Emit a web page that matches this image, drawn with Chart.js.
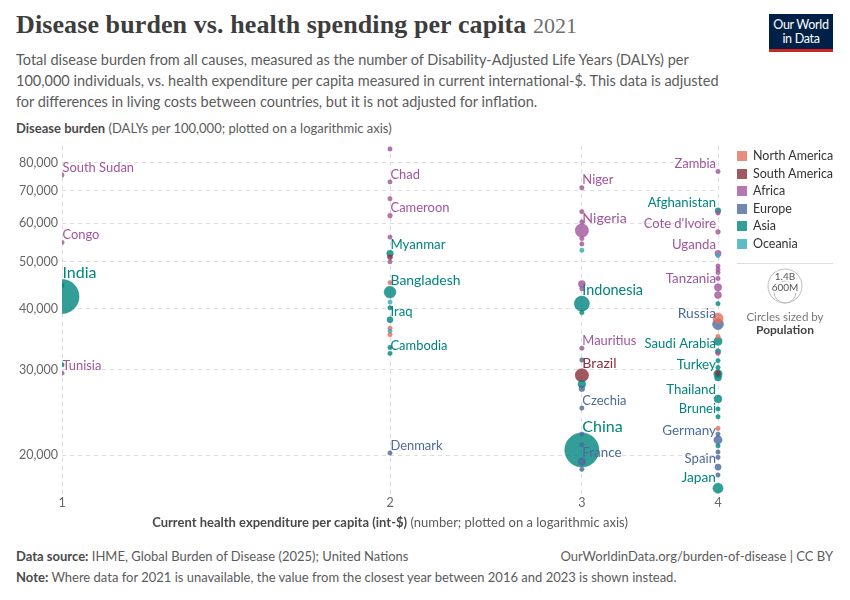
<!DOCTYPE html>
<html>
<head>
<meta charset="utf-8">
<script src="https://cdn.jsdelivr.net/npm/chart.js@4.4.1/dist/chart.umd.min.js"></script>
<style>
  body { margin: 0; width: 850px; height: 600px; background: #fff; font-family: Lato, sans-serif; position: relative; overflow: hidden; }
  .abs { position: absolute; white-space: nowrap; }
  #title { left: 16px; top: 10px; font-family: "Liberation Serif", serif; font-size: 26px; font-weight: bold; letter-spacing: 0.1px; color: #3d3d3d; }
  #title span { color: #6e6e6e; font-size: 22px; font-weight: normal; letter-spacing: 0; }
  #subtitle { left: 16px; top: 50px; font-size: 14.5px; line-height: 20.8px; color: #5b5b5b; }
  #ytitle { left: 16px; top: 120px; font-size: 13px; color: #5b5b5b; }
  #xtitle { left: 62px; width: 656px; text-align: center; top: 514px; font-size: 13px; color: #5b5b5b; }
  b { font-weight: 700; color: #4a4a4a; }
  #logo { left: 769px; top: 14px; width: 64px; background: #002147; border-bottom: 3px solid #ce261e;
          color: #fff; font-size: 12.5px; line-height: 14px; text-align: center; padding-top: 4px; height: 31px; letter-spacing: -0.3px; }
  #legend { left: 737px; top: 147px; font-size: 12.5px; color: #333; }
  #legend div { height: 17.6px; line-height: 17px; }
  #legend i { display: inline-block; width: 10px; height: 10px; margin-right: 6px; vertical-align: -1px; }
  #sep { left: 737px; top: 263px; width: 96px; border-top: 1px solid #ddd; }
  #sizekey { left: 760px; top: 266px; }
  #sizenote { left: 737px; width: 96px; text-align: center; top: 310px; font-size: 11.5px; color: #777; line-height: 13px; }
  #sizenote b { font-size: 12px; color: #444; }
  #source { left: 16px; top: 548px; font-size: 13px; color: #5b5b5b; }
  #url { right: 17px; top: 548px; font-size: 13px; color: #5b5b5b; }
  #note { left: 16px; top: 569px; font-size: 13px; color: #5b5b5b; }
  #box { left: 0; top: 128px; width: 740px; height: 387px; }
</style>
</head>
<body>
<div class="abs" id="title">Disease burden vs. health spending per capita <span>2021</span></div>
<div class="abs" id="subtitle">Total disease burden from all causes, measured as the number of Disability-Adjusted Life Years (DALYs) per<br>100,000 individuals, vs. health expenditure per capita measured in current international-$. This data is adjusted<br>for differences in living costs between countries, but it is not adjusted for inflation.</div>
<div class="abs" id="logo">Our World<br>in Data</div>
<div class="abs" id="ytitle"><b>Disease burden</b> (DALYs per 100,000; plotted on a logarithmic axis)</div>
<div class="abs" id="box"><canvas id="chart"></canvas></div>
<div class="abs" id="xtitle"><b>Current health expenditure per capita (int-$)</b> (number; plotted on a logarithmic axis)</div>
<div class="abs" id="legend"></div>
<div class="abs" id="sep"></div>
<svg class="abs" id="sizekey" width="50" height="42">
  <circle cx="25" cy="20" r="17" fill="none" stroke="#bbb" stroke-width="1"/>
  <circle cx="25" cy="26" r="11" fill="none" stroke="#bbb" stroke-width="1"/>
  <text x="25" y="14" font-family="Lato" font-size="10" fill="#555" text-anchor="middle" stroke="#fff" stroke-width="3" paint-order="stroke">1.4B</text>
  <text x="25" y="25" font-family="Lato" font-size="10" fill="#555" text-anchor="middle" stroke="#fff" stroke-width="3" paint-order="stroke">600M</text>
</svg>
<div class="abs" id="sizenote">Circles sized by<br><b>Population</b></div>
<div class="abs" id="source"><b>Data source:</b> IHME, Global Burden of Disease (2025); United Nations</div>
<div class="abs" id="url">OurWorldinData.org/burden-of-disease | CC BY</div>
<div class="abs" id="note"><b>Note:</b> Where data for 2021 is unavailable, the value from the closest year between 2016 and 2023 is shown instead.</div>
<script>
// continents in legend order
const continentNames = ["North America", "South America", "Africa", "Europe", "Asia", "Oceania"];

// tick values
const xTicks = [1, 2, 3, 4];
const yTicks = [20000, 30000, 40000, 50000, 60000, 70000, 80000];

// one entry per country ("" = not labelled on the chart)
const countries = [
  "South Sudan", "Congo", "India", "", "", "Tunisia",
  "", "Chad", "", "Cameroon", "", "Myanmar", "", "", "", "Bangladesh", "", "", "Iraq", "", "", "", "", "Cambodia", "Denmark",
  "Niger", "", "", "Nigeria", "", "", "", "", "", "Indonesia", "", "Mauritius", "", "Brazil", "", "", "Czechia", "", "", "China", "France", "",
  "Zambia", "Afghanistan", "", "Cote d'Ivoire", "Uganda", "", "", "", "", "", "Tanzania", "", "", "", "Russia", "", "", "Saudi Arabia", "", "", "", "Turkey", "", "", "Thailand", "", "Brunei", "", "", "Germany", "", "", "", "Spain", "", "Japan"
];
const continents = [
  "Africa", "Africa", "Asia", "Asia", "Asia", "Africa",
  "Africa", "Africa", "Africa", "Africa", "Africa", "Asia", "South America", "Africa", "North America", "Asia", "Oceania", "Asia", "Asia", "North America", "Oceania", "North America", "Asia", "Asia", "Europe",
  "Africa", "Africa", "Africa", "Africa", "Africa", "Africa", "Oceania", "Africa", "Africa", "Asia", "Asia", "Africa", "Europe", "South America", "Asia", "Europe", "Europe", "Europe", "Europe", "Asia", "Europe", "Europe",
  "Africa", "Asia", "Africa", "Africa", "Africa", "Oceania", "Africa", "Africa", "Africa", "Africa", "Africa", "Africa", "Asia", "North America", "Europe", "North America", "Asia", "Asia", "Africa", "Asia", "Asia", "Asia", "South America", "Asia", "Asia", "Asia", "Asia", "North America", "Europe", "Europe", "Asia", "Europe", "Europe", "Europe", "Europe", "Asia"
];
// health expenditure per capita (int-$)
const spending = [
  1, 1, 1, 1, 1, 1,
  2, 2, 2, 2, 2, 2, 2, 2, 2, 2, 2, 2, 2, 2, 2, 2, 2, 2, 2,
  3, 3, 3, 3, 3, 3, 3, 3, 3, 3, 3, 3, 3, 3, 3, 3, 3, 3, 3, 3, 3, 3,
  4, 4, 4, 4, 4, 4, 4, 4, 4, 4, 4, 4, 4, 4, 4, 4, 4, 4, 4, 4, 4, 4, 4, 4, 4, 4, 4, 4, 4, 4, 4, 4, 4, 4, 4, 4
];
// DALYs per 100,000
const burden = [
  75400, 54800, 42400, 44700, 30700, 29500,
  85300, 73000, 67400, 62200, 56200, 52000, 51100, 50000, 45300, 43300, 41300, 40200, 38000, 36500, 36000, 35400, 33300, 32400, 20200,
  71000, 63400, 60400, 58000, 55800, 54400, 52800, 45000, 44000, 41000, 39300, 33200, 31400, 29200, 28000, 27400, 25000, 22100, 21000, 20500, 19400, 18700,
  76700, 63700, 63000, 57600, 52000, 51500, 49000, 48200, 47500, 46200, 44300, 42700, 41000, 38300, 37200, 35100, 34300, 32700, 32400, 31300, 30300, 29400, 29500, 28900, 26100, 24900, 24000, 22700, 22100, 21500, 20900, 20300, 19800, 18900, 18200, 17100
];
// population, millions
const population = [
  11, 6, 1410, 8, 5, 12,
  10, 17, 10, 27, 12, 54, 30, 10, 3, 170, 9, 4, 43, 10, 9, 10, 4, 17, 6,
  25, 10, 10, 215, 12, 12, 9, 60, 15, 275, 12, 1.3, 3, 214, 70, 40, 10.5, 10, 12, 1412, 68, 10,
  19, 40, 15, 28, 47, 9, 15, 15, 12, 12, 65, 60, 5, 127, 145, 12, 80, 36, 15, 10, 20, 85, 30, 60, 72, 10, 0.45, 12, 12, 83, 20, 10, 15, 47, 12, 125
];

const colours = {
  "North America": "#e56e5a",
  "South America": "#883039",
  "Africa": "#a2559c",
  "Europe": "#4c6a9c",
  "Asia": "#00847e",
  "Oceania": "#38aaba"
};
function fade(hex, a) {
  const n = parseInt(hex.slice(1), 16);
  return `rgba(${n >> 16},${(n >> 8) & 255},${n & 255},${a})`;
}
// 1.4B -> 17px radius, area proportional to population
function radiusFor(pop) {
  return Math.max(2.2, 17 * Math.sqrt(pop / 1400));
}

// legend
document.getElementById("legend").innerHTML = continentNames
  .map(c => `<div><i style="background:${fade(colours[c], 0.8)}"></i>${c}</div>`).join("");

// biggest first so small circles sit on top
const points = countries.map((name, i) => ({
  x: spending[i], y: burden[i], r: radiusFor(population[i]),
  name: name, continent: continents[i]
})).sort((a, b) => b.r - a.r);

const pointLabels = {
  id: "pointLabels",
  afterDatasetsDraw(chart) {
    const ctx = chart.ctx;
    const meta = chart.getDatasetMeta(0);
    const lastX = xTicks[xTicks.length - 1];
    meta.data.forEach((el, i) => {
      const d = points[i];
      if (!d.name) return;
      const size = Math.min(16, 12.3 + d.r * 0.28);
      ctx.save();
      ctx.font = `${size}px Lato`;
      ctx.fillStyle = colours[d.continent];
      ctx.textBaseline = "alphabetic";
      const onLeft = d.x === lastX;
      ctx.textAlign = onLeft ? "right" : "left";
      ctx.fillText(d.name, el.x + (onLeft ? -2 : 0.5), el.y - d.r - 1);
      ctx.restore();
    });
  }
};

new Chart(document.getElementById("chart"), {
  type: "bubble",
  data: {
    datasets: [{
      data: points,
      backgroundColor: ctx => fade(colours[ctx.raw.continent], 0.8),
      borderColor: ctx => fade(colours[ctx.raw.continent], 0.9),
      borderWidth: 0.5,
      clip: { left: 0, right: false, top: false, bottom: false }
    }]
  },
  options: {
    responsive: true,
    maintainAspectRatio: false,
    animation: false,
    layout: { padding: { top: 5, right: 22, bottom: 0, left: 0 } },
    plugins: { legend: { display: false }, tooltip: { enabled: false } },
    scales: {
      x: {
        type: "logarithmic",
        min: 1,
        max: 4,
        afterBuildTicks: s => { s.ticks = xTicks.map(v => ({ value: v })); },
        afterFit: s => { s.height = 20; },
        grid: { color: "#dddddd", drawTicks: false },
        border: { display: false, dash: [4, 4] },
        ticks: { padding: 0, color: "#666", font: { family: "Lato", size: 12.5 }, callback: v => String(v), maxRotation: 0 }
      },
      y: {
        type: "logarithmic",
        min: 16560,
        max: 86700,
        afterBuildTicks: s => { s.ticks = yTicks.map(v => ({ value: v })); },
        afterFit: s => { s.width = 62; },
        grid: { color: "#dddddd", drawTicks: false },
        border: { display: false, dash: [4, 4] },
        ticks: { padding: 4, color: "#666", font: { family: "Lato", size: 12.5 }, callback: v => v.toLocaleString("en-US") }
      }
    }
  },
  plugins: [pointLabels]
});
</script>
</body>
</html>
